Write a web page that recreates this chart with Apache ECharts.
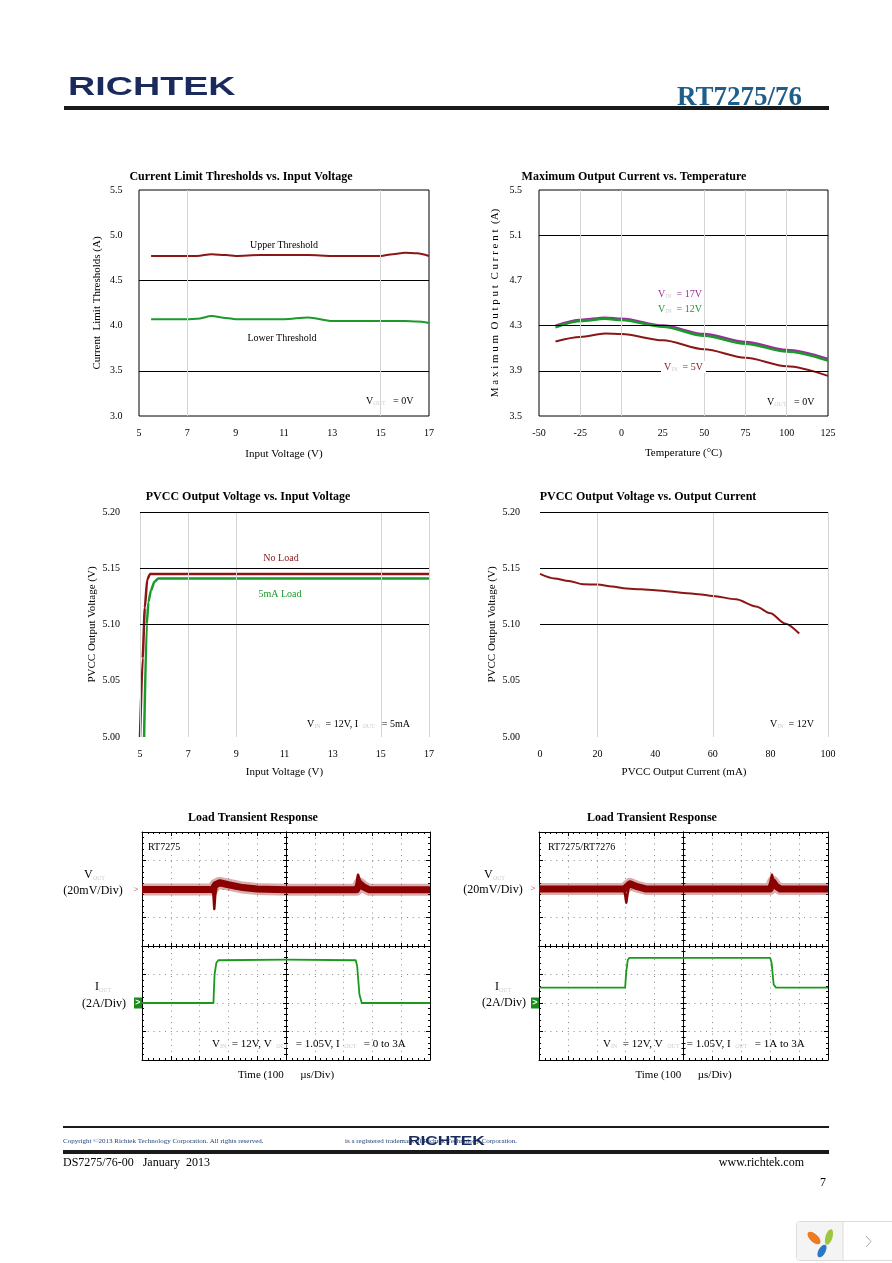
<!DOCTYPE html>
<html>
<head>
<meta charset="utf-8">
<script src="https://cdn.jsdelivr.net/npm/echarts@6/dist/echarts.min.js"></script>
<style>html,body{margin:0;padding:0;background:#fff}#c{width:892px;height:1263px}</style>
</head>
<body>
<div id="c"></div>
<script>
// ---------- Chart 1: Current Limit Thresholds vs. Input Voltage ----------
const c1Vin   = [5.5, 7, 7.4, 8, 8.6, 9, 10, 11, 12, 13, 14, 15, 15.5, 16, 16.5, 17];
const c1Upper = [4.77, 4.77, 4.77, 4.79, 4.78, 4.77, 4.78, 4.78, 4.78, 4.77, 4.77, 4.77, 4.79, 4.805, 4.80, 4.77];
const c1Lower = [4.07, 4.07, 4.075, 4.105, 4.085, 4.07, 4.07, 4.07, 4.09, 4.05, 4.05, 4.05, 4.05, 4.05, 4.045, 4.03];
// ---------- Chart 2: Maximum Output Current vs. Temperature ----------
const c2Temp  = [-40, -25, -10, 0, 25, 50, 75, 100, 125];
const c2Vin17 = [4.30, 4.35, 4.37, 4.36, 4.30, 4.225, 4.155, 4.085, 4.005];
const c2Vin12 = [4.285, 4.34, 4.36, 4.35, 4.29, 4.21, 4.14, 4.07, 3.99];
const c2Vin5  = [4.16, 4.20, 4.23, 4.225, 4.17, 4.09, 4.015, 3.94, 3.855];
// ---------- Chart 3: PVCC Output Voltage vs. Input Voltage ----------
const c3NoLoadVin = [5.0, 5.11, 5.2, 5.3, 5.42, 6, 9, 17];
const c3NoLoad    = [5.0, 5.07, 5.115, 5.14, 5.145, 5.145, 5.145, 5.145];
const c3LoadVin   = [5.17, 5.28, 5.35, 5.45, 5.6, 5.76, 9, 17];
const c3Load      = [5.0, 5.10, 5.12, 5.13, 5.138, 5.141, 5.141, 5.141];
// ---------- Chart 4: PVCC Output Voltage vs. Output Current ----------
const c4Iout = [0, 5, 10, 15, 20, 25, 30, 35, 40, 45, 50, 55, 60, 68, 75, 80, 85, 90];
const c4Vout = [5.145, 5.141, 5.1387, 5.1358, 5.1355, 5.1337, 5.132, 5.1313, 5.1305, 5.1293, 5.128, 5.127, 5.1254, 5.1224, 5.116, 5.110, 5.101, 5.092];
// ---------- Chart 5: Load Transient (RT7275), divisions ----------
const s5BandT  = [-5, -2.55, -2.45, -2.3, -2.0, -1.5, -1.0, 0, 2.45, 2.55, 2.7, 2.9, 5];
const s5BandV  = [1.98, 1.98, 2.15, 2.22, 2.15, 2.05, 2.0, 1.97, 1.97, 2.2, 2.07, 1.97, 1.97];
const s5DipT   = [-2.56, -2.52, -2.49, -2.46, -2.42];
const s5DipV   = [1.98, 1.8, 1.3, 1.75, 2.1];
const s5SpikeT = [2.44, 2.48, 2.5, 2.55, 2.62];
const s5SpikeV = [2.05, 2.4, 2.5, 2.35, 2.15];
const s5IT     = [-5, -2.52, -2.48, -2.42, -2.35, 0, 2.42, 2.47, 2.55, 2.63, 5];
const s5IV     = [-2.0, -2.0, -1.0, -0.6, -0.5, -0.48, -0.5, -0.7, -1.7, -2.0, -2.0];
// ---------- Chart 6: Load Transient (RT7275/RT7276), divisions ----------
const s6BandT  = [-5, -2.05, -1.95, -1.85, -1.6, -1.3, 3.0, 3.1, 3.2, 3.35, 5];
const s6BandV  = [2.0, 2.0, 2.1, 2.18, 2.08, 2.0, 2.0, 2.25, 2.1, 2.0, 2.0];
const s6DipT   = [-2.06, -2.02, -1.98, -1.94, -1.9];
const s6DipV   = [2.0, 1.8, 1.52, 1.8, 2.05];
const s6SpikeT = [3.0, 3.03, 3.06, 3.1, 3.15];
const s6SpikeV = [2.1, 2.35, 2.5, 2.35, 2.15];
const s6IT     = [-5, -2.02, -1.98, -1.93, -1.88, 3.0, 3.05, 3.12, 3.2, 5];
const s6IV     = [-1.46, -1.46, -0.9, -0.5, -0.42, -0.42, -0.6, -1.35, -1.46, -1.46];

const F = '"Liberation Serif", "Times New Roman", serif';
const SANS = '"Liberation Sans", Arial, sans-serif';
const RED = '#8b1616', GREEN = '#1a9a2a', PURPLE = '#9b2d9b';
const zip = (xs, ys) => xs.map((x, i) => [x, ys[i]]);

function stdX(gi, min, max, interval, name, nameGap) {
  return { gridIndex: gi, type: 'value', min, max, interval, name, nameLocation: 'middle', nameGap,
    nameTextStyle: { fontFamily: F, fontSize: 11, color: '#000' },
    axisLine: { show: false, onZero: false }, axisTick: { show: false }, splitLine: { show: false },
    axisLabel: { fontFamily: F, fontSize: 10, color: '#000', margin: 12 } };
}
function stdY(gi, min, max, interval, name, nameGap, margin, dec) {
  return { gridIndex: gi, type: 'value', min, max, interval, name, nameLocation: 'middle', nameGap, nameRotate: 90,
    nameTextStyle: { fontFamily: F, fontSize: 11, color: '#000' },
    axisLine: { show: false, onZero: false }, axisTick: { show: false }, splitLine: { show: false },
    axisLabel: { fontFamily: F, fontSize: 10, color: '#000', margin, formatter: v => v.toFixed(dec) } };
}
const TICK = { color: '#000', width: 1 };
function scopeAx(gi, min, max, o) {
  return Object.assign({ gridIndex: gi, type: 'value', min, max, interval: 1,
    axisLabel: { show: false }, splitLine: { show: false },
    axisTick: { show: true, inside: true, length: 4, lineStyle: TICK },
    minorTick: { show: true, splitNumber: 5, length: 2, lineStyle: TICK },
    axisLine: { show: true, onZero: false, lineStyle: { color: '#000', width: 1 } } }, o);
}
const DOT = { show: true, lineStyle: { color: '#8a8a8a', width: 1, type: [1, 4.76] } };
function scopeXs(gi, yIdx) {
  return [
    scopeAx(gi, -5, 5, { position: 'bottom', splitLine: DOT, name: 'Time (100      µs/Div)', nameLocation: 'middle', nameGap: 10,
      nameTextStyle: { fontFamily: F, fontSize: 11, color: '#000' } }),
    scopeAx(gi, -5, 5, { position: 'top' }),
    scopeAx(gi, -5, 5, { position: 'bottom', axisLine: { show: true, onZero: true, onZeroAxisIndex: yIdx, lineStyle: { color: '#000' } },
      axisTick: { show: true, inside: true, length: 3, lineStyle: TICK } }),
    scopeAx(gi, -5, 5, { position: 'bottom', axisLine: { show: true, onZero: true, onZeroAxisIndex: yIdx, lineStyle: { color: '#000' } },
      axisTick: { show: true, inside: false, length: 3, lineStyle: TICK } })
  ];
}
function scopeYs(gi, xIdx) {
  return [
    scopeAx(gi, -4, 4, { position: 'left', splitLine: DOT }),
    scopeAx(gi, -4, 4, { position: 'right' }),
    scopeAx(gi, -4, 4, { position: 'left', axisLine: { show: true, onZero: true, onZeroAxisIndex: xIdx, lineStyle: { color: '#000' } },
      axisTick: { show: true, inside: true, length: 3, lineStyle: TICK } }),
    scopeAx(gi, -4, 4, { position: 'left', axisLine: { show: true, onZero: true, onZeroAxisIndex: xIdx, lineStyle: { color: '#000' } },
      axisTick: { show: true, inside: false, length: 3, lineStyle: TICK } })
  ];
}
function hl(v) { return { yAxis: v, lineStyle: { color: '#000', width: 1, type: 'solid' } }; }
function vl(v) { return { xAxis: v, lineStyle: { color: '#d4d4d4', width: 1, type: 'solid' } }; }
function refSeries(i, items) {
  return { type: 'line', xAxisIndex: i, yAxisIndex: i, data: [], z: 1, silent: true,
    markLine: { silent: true, symbol: ['none', 'none'], label: { show: false }, animation: false, emphasis: { disabled: true }, data: items } };
}
function curve(i, xs, ys, color, w, smooth) {
  return { type: 'line', xAxisIndex: i, yAxisIndex: i, data: zip(xs, ys), symbol: 'none', smooth: smooth, smoothMonotone: 'x',
    lineStyle: { color, width: w }, z: 3, silent: true };
}
function scopeLine(xi, yi, xs, ys, color, w, extra) {
  return Object.assign({ type: 'line', xAxisIndex: xi, yAxisIndex: yi, data: zip(xs, ys), symbol: 'none',
    lineStyle: { color, width: w, join: 'round' }, z: 3, silent: true }, extra || {});
}
const redMark = (lvl) => ({ silent: true, animation: false, data: [{ coord: [-5, lvl], symbol: 'rect', symbolSize: 1,
  itemStyle: { color: 'rgba(0,0,0,0)' }, label: { show: true, position: 'left', distance: 3, formatter: '>', color: '#b03030', fontSize: 9, fontFamily: F } }] });
const greenMark = (lvl) => ({ silent: true, animation: false, data: [{ coord: [-5, lvl], symbol: 'rect', symbolSize: [8, 11], symbolOffset: [-4, 0],
  itemStyle: { color: '#1a8a1a' }, label: { show: true, position: 'inside', formatter: '>', color: '#fff', fontSize: 9, fontWeight: 'bold', fontFamily: SANS } }] });

const SUB = { s: { fontSize: 6, fill: '#cfcfcf', fontFamily: F, verticalAlign: 'bottom' } };
function txt(x, y, text, o) {
  return { type: 'text', x, y, z: 100, silent: true,
    style: Object.assign({ text, fontFamily: F, fontSize: 10, fill: '#000', align: 'left', verticalAlign: 'middle', rich: SUB }, o || {}) };
}
function title(x, y, text) { return txt(x, y, text, { fontSize: 12, fontWeight: 'bold', align: 'center' }); }

const xAxes = [
  stdX(0, 5, 17, 2, 'Input Voltage (V)', 33),
  stdX(1, -50, 125, 25, 'Temperature (°C)', 31.5),
  stdX(2, 5, 17, 2, 'Input Voltage (V)', 29.5),
  stdX(3, 0, 100, 20, 'PVCC Output Current (mA)', 29.5),
  ...scopeXs(4, 4),
  ...scopeXs(5, 8)
];
const yAxes = [
  stdY(0, 3.0, 5.5, 0.5, 'Current  Limit Thresholds (A)', 36.5, 16.5, 1),
  stdY(1, 3.5, 5.5, 0.4, 'M a x i m u m  O u t p u t  C u r r e n t  (A)', 38, 17, 1),
  stdY(2, 5.0, 5.2, 0.05, 'PVCC Output Voltage (V)', 42.5, 20, 2),
  stdY(3, 5.0, 5.2, 0.05, 'PVCC Output Voltage (V)', 42.5, 20, 2),
  ...scopeYs(4, 4),
  ...scopeYs(5, 8)
];

const FUZZ = 'rgba(150,20,20,0.35)';
const series = [
  refSeries(0, [hl(4.5), hl(3.5), vl(7), vl(15)]),
  curve(0, c1Vin, c1Upper, RED, 2, 0.3),
  curve(0, c1Vin, c1Lower, GREEN, 2, 0.3),
  refSeries(1, [hl(5.1), hl(4.3), hl(3.9), vl(-25), vl(0), vl(50), vl(75), vl(100)]),
  curve(1, c2Temp, c2Vin17, PURPLE, 2.5, 0.3),
  curve(1, c2Temp, c2Vin12, GREEN, 2.5, 0.3),
  curve(1, c2Temp, c2Vin5, RED, 2, 0.3),
  refSeries(2, [vl(5), vl(7), vl(9), vl(15), vl(17), hl(5.2), hl(5.15), hl(5.1)]),
  curve(2, c3NoLoadVin, c3NoLoad, RED, 2.5, 0.2),
  curve(2, c3LoadVin, c3Load, GREEN, 2.5, 0.2),
  refSeries(3, [vl(20), vl(60), vl(100), hl(5.2), hl(5.15), hl(5.1)]),
  curve(3, c4Iout, c4Vout, RED, 2, 0.3),
  // scope 1
  scopeLine(4, 4, s5BandT, s5BandV, FUZZ, 12, { z: 2 }),
  scopeLine(4, 4, s5BandT, s5BandV, '#8b0000', 7, { markPoint: redMark(1.98) }),
  scopeLine(4, 4, s5DipT, s5DipV, '#8b0000', 2.5),
  scopeLine(4, 4, s5SpikeT, s5SpikeV, '#8b0000', 2.5),
  scopeLine(4, 4, s5IT, s5IV, '#1a9a1a', 1.8, { markPoint: greenMark(-2) }),
  // scope 2
  scopeLine(8, 8, s6BandT, s6BandV, FUZZ, 12, { z: 2 }),
  scopeLine(8, 8, s6BandT, s6BandV, '#8b0000', 7, { markPoint: redMark(2.0) }),
  scopeLine(8, 8, s6DipT, s6DipV, '#8b0000', 2.5),
  scopeLine(8, 8, s6SpikeT, s6SpikeV, '#8b0000', 2.5),
  scopeLine(8, 8, s6IT, s6IV, '#1a9a1a', 1.8, { markPoint: greenMark(-2) })
];

const graphic = [
  // header
  { type: 'text', x: 68, y: 88, scaleX: 1.45, z: 100, silent: true,
    style: { text: 'RICHTEK', fontFamily: SANS, fontWeight: 'bold', fontSize: 26, fill: '#1b2a5c', verticalAlign: 'middle' } },
  txt(802, 98, 'RT7275/76', { fontSize: 27, fontWeight: 'bold', fill: '#1f5d8a', align: 'right' }),
  { type: 'rect', z: 100, silent: true, shape: { x: 64, y: 106, width: 765, height: 4 }, style: { fill: '#1a1a1a' } },
  // titles
  title(241, 177, 'Current Limit Thresholds vs. Input Voltage'),
  title(634, 177, 'Maximum Output Current vs. Temperature'),
  title(248, 497, 'PVCC Output Voltage vs. Input Voltage'),
  title(648, 497, 'PVCC Output Voltage vs. Output Current'),
  title(253, 818, 'Load Transient Response'),
  title(652, 818, 'Load Transient Response'),
  // chart 1 notes
  txt(284, 245, 'Upper Threshold', { align: 'center' }),
  txt(282, 338, 'Lower Threshold', { align: 'center' }),
  txt(366, 401, 'V{s|OUT}   = 0V'),
  // chart 2 notes
  txt(658, 294, 'V{s|IN}  = 17V', { fill: PURPLE }),
  txt(658, 309, 'V{s|IN}  = 12V', { fill: GREEN }),
  txt(661, 367, 'V{s|IN}  = 5V', { fill: RED, backgroundColor: '#fff', padding: [1, 3] }),
  txt(767, 402, 'V{s|OUT}   = 0V'),
  // chart 3 notes
  txt(281, 558, 'No Load', { align: 'center', fill: RED }),
  txt(280, 594, '5mA Load', { align: 'center', fill: GREEN }),
  txt(307, 724, 'V{s|IN}  = 12V, I{s|   OUT   } = 5mA'),
  // chart 4 note
  txt(770, 724, 'V{s|IN}  = 12V'),
  // scope 1 labels
  txt(84, 875, 'V{s|OUT}', { fontSize: 12 }),
  txt(93, 891, '(20mV/Div)', { fontSize: 12, align: 'center' }),
  txt(95, 987, 'I{s|OUT}', { fontSize: 12 }),
  txt(104, 1004, '(2A/Div)', { fontSize: 12, align: 'center' }),
  txt(148, 847, 'RT7275'),
  txt(212, 1044, 'V{s|IN}  = 12V, V{s|   OUT   } = 1.05V, I{s|   OUT   } = 0 to 3A', { fontSize: 11 }),
  // scope 2 labels
  txt(484, 875, 'V{s|OUT}', { fontSize: 12 }),
  txt(493, 890, '(20mV/Div)', { fontSize: 12, align: 'center' }),
  txt(495, 987, 'I{s|OUT}', { fontSize: 12 }),
  txt(504, 1003, '(2A/Div)', { fontSize: 12, align: 'center' }),
  txt(548, 847, 'RT7275/RT7276'),
  txt(603, 1044, 'V{s|IN}  = 12V, V{s|   OUT   } = 1.05V, I{s|   OUT   } = 1A to 3A', { fontSize: 11 }),
  // footer
  { type: 'rect', z: 100, silent: true, shape: { x: 63, y: 1126, width: 766, height: 2 }, style: { fill: '#1a1a1a' } },
  txt(63, 1141, 'Copyright ©2013 Richtek Technology Corporation. All rights reserved.', { fontSize: 7, fill: '#23407a' }),
  txt(345, 1141, 'is a registered trademark of Richtek Technology Corporation.', { fontSize: 7, fill: '#23407a' }),
  { type: 'text', x: 408, y: 1141, scaleX: 1.33, z: 101, silent: true,
    style: { text: 'RICHTEK', fontFamily: SANS, fontWeight: 'bold', fontSize: 13, fill: '#1b2a5c', verticalAlign: 'middle' } },
  { type: 'rect', z: 100, silent: true, shape: { x: 63, y: 1150, width: 766, height: 4 }, style: { fill: '#1a1a1a' } },
  txt(63, 1163, 'DS7275/76-00   January  2013', { fontSize: 12 }),
  txt(804, 1163, 'www.richtek.com', { fontSize: 12, align: 'right' }),
  txt(820, 1183, '7', { fontSize: 12 }),
  // viewer widget
  { type: 'rect', z: 100, silent: true, shape: { x: 796.5, y: 1221.5, width: 100, height: 39, r: 3 }, style: { fill: '#fff', stroke: '#dcdcdc', lineWidth: 1 } },
  { type: 'rect', z: 100, silent: true, shape: { x: 797, y: 1222, width: 46, height: 38 }, style: { fill: '#f4f4f4' } },
  { type: 'line', z: 100, silent: true, shape: { x1: 843, y1: 1222, x2: 843, y2: 1260 }, style: { stroke: '#dcdcdc', lineWidth: 1 } },
  { type: 'polyline', z: 100, silent: true, shape: { points: [[866, 1236], [871, 1241.5], [866, 1247]] }, style: { stroke: '#aaa', lineWidth: 1, fill: null } },
  { type: 'ellipse', z: 101, silent: true, x: 814, y: 1238, rotation: -0.75, shape: { cx: 0, cy: 0, rx: 8, ry: 4 }, style: { fill: '#f07a20' } },
  { type: 'ellipse', z: 101, silent: true, x: 829, y: 1237, rotation: -0.3, shape: { cx: 0, cy: 0, rx: 3.5, ry: 8 }, style: { fill: '#9cc63c' } },
  { type: 'ellipse', z: 101, silent: true, x: 822, y: 1251, rotation: -0.5, shape: { cx: 0, cy: 0, rx: 3.5, ry: 7 }, style: { fill: '#2a78c4' } }
];

const chart = echarts.init(document.getElementById('c'), null, { renderer: 'canvas' });
chart.setOption({
  animation: false,
  backgroundColor: '#fff',
  grid: [
    { left: 139, top: 190, width: 290, height: 226, show: true, borderColor: '#000', borderWidth: 1, backgroundColor: 'transparent' },
    { left: 539, top: 190, width: 289, height: 226, show: true, borderColor: '#000', borderWidth: 1, backgroundColor: 'transparent' },
    { left: 140, top: 512, width: 289, height: 225 },
    { left: 540, top: 512, width: 288, height: 225 },
    { left: 142, top: 832, width: 288, height: 228 },
    { left: 539, top: 832, width: 289, height: 228 }
  ],
  xAxis: xAxes,
  yAxis: yAxes,
  series,
  graphic
});
</script>
</body>
</html>
